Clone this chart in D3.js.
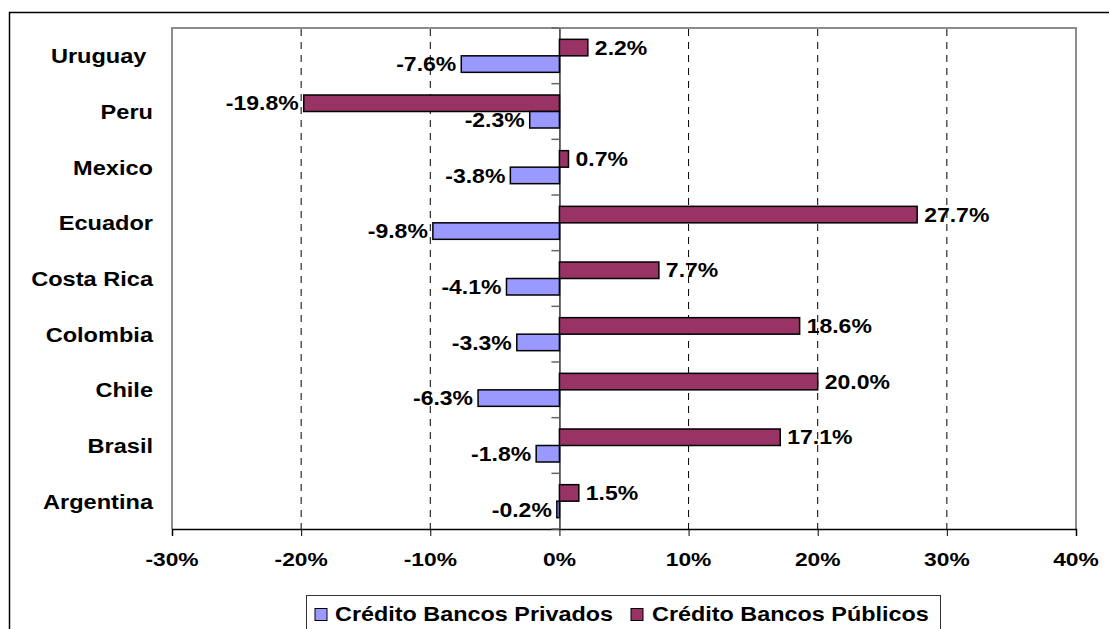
<!DOCTYPE html>
<html>
<head>
<meta charset="utf-8">
<script src="https://cdn.jsdelivr.net/npm/d3@7"></script>
<style>
  html, body { margin: 0; padding: 0; background: #fff; }
  svg { display: block; }
  text { font-family: "Liberation Sans", Arial, sans-serif; font-weight: bold; fill: #000; }
</style>
</head>
<body>
<svg id="chart" width="1109" height="629"></svg>
<script>
// Countries, top to bottom
const countries = ["Uruguay ", "Peru", "Mexico", "Ecuador", "Costa Rica", "Colombia", "Chile", "Brasil", "Argentina"];
// Credit growth, private banks (%)
const privados = [-7.6, -2.3, -3.8, -9.8, -4.1, -3.3, -6.3, -1.8, -0.2];
// Credit growth, public banks (%)
const publicos = [2.2, -19.8, 0.7, 27.7, 7.7, 18.6, 20.0, 17.1, 1.5];
const xTicks = [-30, -20, -10, 0, 10, 20, 30, 40];
const seriesNames = ["Crédito Bancos Privados", "Crédito Bancos Públicos"];
const colors = ["#9999FF", "#993366"];

const svg = d3.select("#chart");
const plot = { left: 172, right: 1076, top: 28, bottom: 529 };

const x = d3.scaleLinear().domain([-30, 40]).range([plot.left, plot.right]);
const y = d3.scaleBand().domain(countries).range([plot.top, plot.bottom]).padding(0);
const barH = 16.5;

// helper: horizontally widened text anchored at (px, py)
function label(g, px, py, str, anchor, fs, sx) {
  return g.append("text")
    .attr("transform", `translate(${px},${py}) scale(${sx},1)`)
    .attr("text-anchor", anchor)
    .attr("dy", "0.36em")
    .attr("font-size", fs)
    .style("white-space", "pre")
    .text(str);
}

// outer frame
svg.append("rect")
  .attr("x", 9.5).attr("y", 12.5)
  .attr("width", 1200).attr("height", 700)
  .attr("fill", "none").attr("stroke", "#000").attr("stroke-width", 1.5);

// plot frame (top, left, right)
svg.append("path")
  .attr("d", `M${plot.left},${plot.bottom} V${plot.top} H${plot.right} V${plot.bottom}`)
  .attr("fill", "none").attr("stroke", "#8c8c8c").attr("stroke-width", 2);

// dashed gridlines
svg.append("g").selectAll("line")
  .data(xTicks.filter(t => t !== -30 && t !== 0 && t !== 40))
  .join("line")
  .attr("x1", d => x(d)).attr("x2", d => x(d))
  .attr("y1", plot.top + 1).attr("y2", plot.bottom)
  .attr("stroke", "#000").attr("stroke-width", 1)
  .attr("stroke-dasharray", "7,6");

// x axis
const xAxis = svg.append("g")
  .attr("transform", `translate(0,${plot.bottom})`)
  .call(d3.axisBottom(x).tickValues(xTicks).tickSize(7).tickFormat(""));
xAxis.select(".domain").attr("stroke", "#000").attr("stroke-width", 1.5);
xAxis.selectAll(".tick line").attr("stroke", "#000");
const xl = svg.append("g");
xTicks.forEach(t => label(xl, x(t), 559.5, t + "%", "middle", 19, 1.2));

// category axis at zero
const yAxis = svg.append("g")
  .attr("transform", `translate(${x(0)},0)`)
  .call(d3.axisLeft(y).tickSize(0).tickFormat(""));
yAxis.select(".domain").attr("stroke", "#333").attr("stroke-width", 1.5);
svg.append("g").selectAll("line")
  .data(d3.range(countries.length + 1))
  .join("line")
  .attr("x1", x(0) - 8).attr("x2", x(0))
  .attr("y1", i => plot.top + i * y.step()).attr("y2", i => plot.top + i * y.step())
  .attr("stroke", "#666").attr("stroke-width", 1.5);

// category labels
const cl = svg.append("g");
countries.forEach(c => label(cl, 153, y(c) + y.bandwidth() / 2, c, "end", 20.5, 1.15));

// bars
const barsG = svg.append("g");
const series = [publicos, privados];
const seriesColor = [colors[1], colors[0]];
series.forEach((vals, si) => {
  barsG.selectAll(null)
    .data(countries.map((c, i) => ({ c, v: vals[i] })))
    .join("rect")
    .attr("x", d => Math.min(x(0), x(d.v)))
    .attr("width", d => Math.abs(x(d.v) - x(0)))
    .attr("y", d => y(d.c) + y.bandwidth() / 2 - barH + si * barH)
    .attr("height", barH)
    .attr("fill", seriesColor[si])
    .attr("stroke", "#000").attr("stroke-width", 1.5);
});

// value labels
const vl = svg.append("g");
series.forEach((vals, si) => {
  countries.forEach((c, i) => {
    const v = vals[i];
    const cy = y(c) + y.bandwidth() / 2 - barH / 2 + si * barH;
    const px = v >= 0 ? x(v) + 7 : x(v) - 5;
    label(vl, px, cy, v.toFixed(1) + "%", v >= 0 ? "start" : "end", 20, 1.15);
  });
});

// legend
const lg = svg.append("g");
lg.append("rect")
  .attr("x", 306.5).attr("y", 595.5).attr("width", 634).attr("height", 60)
  .attr("fill", "#fff").attr("stroke", "#333").attr("stroke-width", 1);
const legendItems = [
  { name: seriesNames[0], color: colors[0], sx: 315, tx: 335 },
  { name: seriesNames[1], color: colors[1], sx: 631, tx: 652 }
];
legendItems.forEach(it => {
  lg.append("rect")
    .attr("x", it.sx).attr("y", 608.5).attr("width", 12).attr("height", 12)
    .attr("fill", it.color).attr("stroke", "#000").attr("stroke-width", 1);
  label(lg, it.tx, 614, it.name, "start", 20, 1.17);
});
</script>
</body>
</html>
